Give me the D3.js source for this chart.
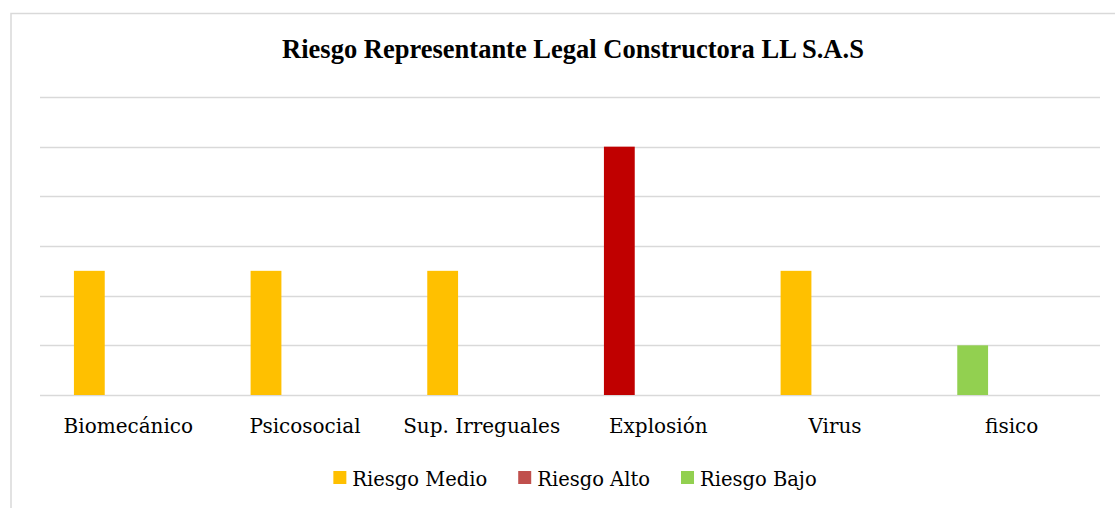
<!DOCTYPE html>
<meta charset="utf-8">
<style>
body { margin: 0; background: #fff; }
svg { display: block; }
</style>
<body>
<div id="chart"></div>
<script src="https://d3js.org/d3.v7.min.js"></script>
<script>
// data
var categories = ['Biomecánico', 'Psicosocial', 'Sup. Irreguales', 'Explosión', 'Virus', 'fisico']
var values = [2.5, 2.5, 2.5, 5, 2.5, 1]
var barColors = ['#FFC000', '#FFC000', '#FFC000', '#C00000', '#FFC000', '#92D050']
var seriesNames = ['Riesgo Medio', 'Riesgo Alto', 'Riesgo Bajo']
var legendColors = ['#FFC000', '#C0504D', '#92D050']
var yTicks = [0, 1, 2, 3, 4, 5, 6]
var title = 'Riesgo Representante Legal Constructora LL S.A.S'

var width = 1115
var height = 508
var margin = { top: 97, right: 15, bottom: 113, left: 40 }

var svg = d3.select('#chart')
    .append('svg')
    .attr('width', width)
    .attr('height', height)

// chart frame (right and bottom edges are cut off in the reference)
svg.append('rect')
    .attr('x', 11)
    .attr('y', 13.5)
    .attr('width', width + 20)
    .attr('height', height + 20)
    .style('fill', 'none')
    .style('stroke', '#d9d9d9')
    .style('stroke-width', 1.5)

var x0 = d3.scaleBand()
    .domain(categories)
    .range([margin.left, width - margin.right])

// slots inside each category, the bars sit in the first one
var x1 = d3.scaleBand()
    .domain(seriesNames)
    .range([0, x0.bandwidth()])
    .paddingInner(0.21)
    .paddingOuter(0.87)

var y = d3.scaleLinear()
    .domain([0, 6])
    .range([height - margin.bottom, margin.top])

svg.append('g')
    .selectAll('line')
    .data(yTicks)
    .enter()
    .append('line')
    .attr('x1', margin.left)
    .attr('x2', width - margin.right)
    .attr('y1', function (d) { return Math.round(y(d)) + 0.5 })
    .attr('y2', function (d) { return Math.round(y(d)) + 0.5 })
    .style('stroke', '#d9d9d9')
    .style('stroke-width', 1.4)

svg.append('g')
    .selectAll('rect')
    .data(values)
    .enter()
    .append('rect')
    .attr('x', function (d, i) { return x0(categories[i]) + x1(seriesNames[0]) })
    .attr('width', x1.bandwidth())
    .attr('y', function (d) { return y(d) })
    .attr('height', function (d) { return y(0) - y(d) })
    .style('fill', function (d, i) { return barColors[i] })

var xAxis = d3.axisBottom(x0).tickSize(0).tickPadding(0)
var gx = svg.append('g')
    .attr('transform', 'translate(0,' + y(0) + ')')
    .call(xAxis)
gx.select('.domain').remove()
gx.selectAll('text')
    .attr('y', 38)
    .attr('dy', 0)
    .style('font-family', 'DejaVu Serif')
    .style('font-size', '20px')
    .style('fill', '#000')

svg.append('text')
    .attr('x', 573)
    .attr('y', 58)
    .style('text-anchor', 'middle')
    .style('font-family', 'Liberation Serif')
    .style('font-weight', 'bold')
    .style('font-size', '26.5px')
    .style('fill', '#000')
    .text(title)

// legend
var legend = svg.append('g')
var lx = 0
seriesNames.forEach(function (name, i) {
    var item = legend.append('g').attr('transform', 'translate(' + lx + ',0)')
    item.append('rect')
        .attr('x', 0)
        .attr('y', 471)
        .attr('width', 13)
        .attr('height', 13)
        .style('fill', legendColors[i])
    var t = item.append('text')
        .attr('x', 19)
        .attr('y', 486)
        .style('font-family', 'DejaVu Serif')
        .style('font-size', '19.5px')
        .style('fill', '#000')
        .text(name)
    lx += 19 + t.node().getComputedTextLength() + 31
})
var legendW = lx - 31
legend.attr('transform', 'translate(' + (575 - legendW / 2) + ',0)')
</script>
</body>
